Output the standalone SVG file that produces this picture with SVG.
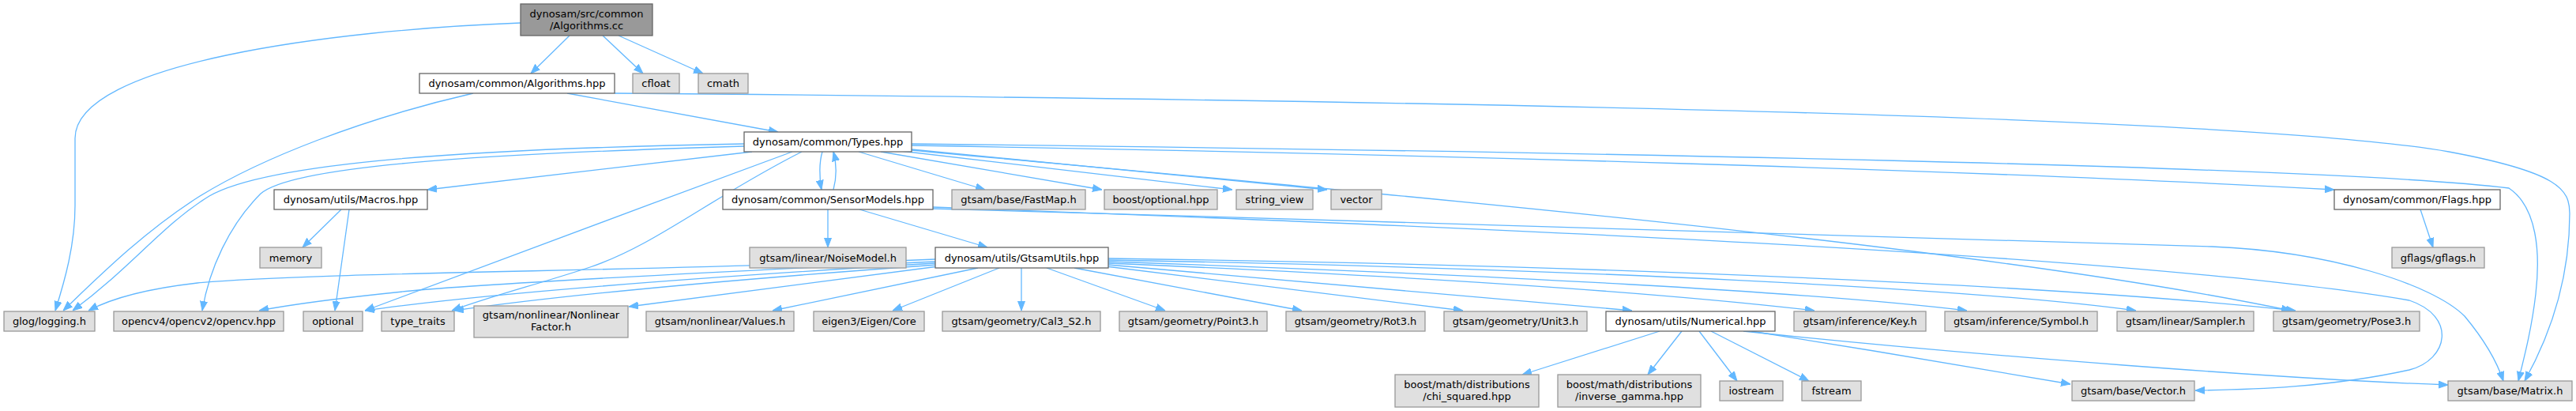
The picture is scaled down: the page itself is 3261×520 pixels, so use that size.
<svg xmlns="http://www.w3.org/2000/svg" width="3261" height="520" viewBox="0 0 3261 520">
<style>
.n rect{stroke-width:1.3}
.w rect{fill:#ffffff;stroke:#666666}
.g rect{fill:#e0e0e0;stroke:#999999}
.m rect{fill:#999999;stroke:#666666}
text{font-family:"DejaVu Sans","Liberation Sans",sans-serif;font-size:13px;fill:#000000;text-anchor:middle}
#edges path{fill:none;stroke:#63b8ff;stroke-width:1.3;marker-end:url(#ah)}
</style>
<defs>
<marker id="ah" markerUnits="userSpaceOnUse" markerWidth="12" markerHeight="10" viewBox="0 0 12 10" refX="12" refY="5" orient="auto">
<path d="M0,0.5 L12,5 L0,9.5 z" fill="#63b8ff" stroke="#63b8ff" stroke-width="1"/>
</marker>
</defs>
<rect width="3261" height="520" fill="#ffffff"/>
<g id="edges">
<path d="M659,29 C420,38 95,80 95,175 L95,260 C95,310 82,355 70,393"/>
<path d="M721,45 L672,93"/>
<path d="M763,45 L814,93"/>
<path d="M783,45 L890,93"/>
<path d="M599,118 C460,150 330,200 250,250 C180,295 125,350 80,393"/>
<path d="M718,118 L985,167"/>
<path d="M778,118 C1500,124 2800,140 3100,192 C3240,218 3253,240 3253,270 C3253,360 3225,430 3196,482"/>
<path d="M952,192 L541,240"/>
<path d="M1041,192 C1037,205 1037,225 1040,240"/>
<path d="M1055,240 C1059,225 1059,207 1055,192"/>
<path d="M1087,192 L1247,240"/>
<path d="M1115,192 L1395,240"/>
<path d="M1140,191 L1560,240"/>
<path d="M1154,189 L1680,240"/>
<path d="M1154,184 C1800,195 2500,215 2955,240"/>
<path d="M1154,182 C2000,192 2950,210 3176,238 C3212,262 3216,320 3210,372 C3205,415 3196,450 3188,482"/>
<path d="M1154,190 C1800,250 2500,310 2900,393"/>
<path d="M942,182 C600,188 340,205 265,248 C205,285 170,335 92,393"/>
<path d="M942,185 C600,195 370,210 330,245 C290,285 265,340 256,393"/>
<path d="M1003,192 C820,260 600,340 462,393"/>
<path d="M1015,192 C900,250 830,310 747,338 C680,360 620,375 572,393"/>
<path d="M1048,265 L1048,313"/>
<path d="M1088,265 L1250,313"/>
<path d="M1181,262 C1800,285 2700,320 3050,380 C3110,400 3100,455 3050,468 C2950,490 2850,493 2779,494"/>
<path d="M1181,264 C1800,282 2500,300 2800,312 C2950,318 3080,360 3120,400 C3145,430 3160,455 3169,482"/>
<path d="M432,265 L383,313"/>
<path d="M442,265 L424,393"/>
<path d="M3064,265 L3080,313"/>
<path d="M1184,328 C800,344 400,344 250,358 C180,366 140,378 112,393"/>
<path d="M1184,331 C900,344 600,360 520,368 C420,378 370,385 328,393"/>
<path d="M1184,333 C900,350 620,370 462,393"/>
<path d="M1186,335 C950,352 720,372 575,393"/>
<path d="M1188,337 L796,388"/>
<path d="M1238,339 L978,393"/>
<path d="M1265,339 L1130,393"/>
<path d="M1293,339 L1293,393"/>
<path d="M1325,339 L1475,393"/>
<path d="M1360,339 L1648,393"/>
<path d="M1400,337 L1852,393"/>
<path d="M1403,335 L2066,393"/>
<path d="M1403,333 C1800,350 2100,370 2297,393"/>
<path d="M1403,331 C1900,348 2300,370 2490,393"/>
<path d="M1403,329 C2000,340 2500,365 2704,393"/>
<path d="M1403,327 C2000,335 2600,360 2906,393"/>
<path d="M2101,419 L1927,474"/>
<path d="M2129,419 L2086,474"/>
<path d="M2151,419 L2199,482"/>
<path d="M2166,419 L2290,482"/>
<path d="M2217,419 C2350,440 2500,465 2621,486"/>
<path d="M2207,419 C2500,450 2900,480 3099,487"/>
</g>
<g id="n_algorithms_cc" class="n m"><rect x="659" y="5" width="167" height="40"/><text x="742.5" y="21.5">dynosam/src/common</text><text x="742.5" y="36.5">/Algorithms.cc</text></g>
<g id="n_algorithms_hpp" class="n w"><rect x="531" y="93" width="247" height="25"/><text x="654.5" y="110">dynosam/common/Algorithms.hpp</text></g>
<g id="n_cfloat" class="n g"><rect x="801" y="93" width="59" height="25"/><text x="830.5" y="110">cfloat</text></g>
<g id="n_cmath" class="n g"><rect x="884" y="93" width="63" height="25"/><text x="915.5" y="110">cmath</text></g>
<g id="n_types" class="n w"><rect x="942" y="167" width="212" height="25"/><text x="1048" y="184">dynosam/common/Types.hpp</text></g>
<g id="n_macros" class="n w"><rect x="347" y="240" width="194" height="25"/><text x="444" y="257">dynosam/utils/Macros.hpp</text></g>
<g id="n_sensormodels" class="n w"><rect x="915" y="240" width="266" height="25"/><text x="1048" y="257">dynosam/common/SensorModels.hpp</text></g>
<g id="n_fastmap" class="n g"><rect x="1205" y="240" width="169" height="25"/><text x="1289.5" y="257">gtsam/base/FastMap.h</text></g>
<g id="n_boost_optional" class="n g"><rect x="1398" y="240" width="143" height="25"/><text x="1469.5" y="257">boost/optional.hpp</text></g>
<g id="n_string_view" class="n g"><rect x="1565" y="240" width="97" height="25"/><text x="1613.5" y="257">string_view</text></g>
<g id="n_vector" class="n g"><rect x="1685" y="240" width="64" height="25"/><text x="1717" y="257">vector</text></g>
<g id="n_flags" class="n w"><rect x="2955" y="240" width="210" height="25"/><text x="3060" y="257">dynosam/common/Flags.hpp</text></g>
<g id="n_memory" class="n g"><rect x="329" y="313" width="78" height="26"/><text x="368" y="330.5">memory</text></g>
<g id="n_noisemodel" class="n g"><rect x="949" y="313" width="198" height="26"/><text x="1048" y="330.5">gtsam/linear/NoiseModel.h</text></g>
<g id="n_gtsamutils" class="n w"><rect x="1184" y="313" width="219" height="26"/><text x="1293.5" y="330.5">dynosam/utils/GtsamUtils.hpp</text></g>
<g id="n_gflags" class="n g"><rect x="3028" y="313" width="117" height="26"/><text x="3086.5" y="330.5">gflags/gflags.h</text></g>
<g id="n_glog" class="n g"><rect x="5" y="394" width="115" height="25"/><text x="62.5" y="411">glog/logging.h</text></g>
<g id="n_opencv" class="n g"><rect x="144" y="394" width="215" height="25"/><text x="251.5" y="411">opencv4/opencv2/opencv.hpp</text></g>
<g id="n_optional" class="n g"><rect x="384" y="394" width="75" height="25"/><text x="421.5" y="411">optional</text></g>
<g id="n_type_traits" class="n g"><rect x="483" y="394" width="92" height="25"/><text x="529" y="411">type_traits</text></g>
<g id="n_nonlinearfactor" class="n g"><rect x="600" y="387" width="195" height="40"/><text x="697.5" y="403">gtsam/nonlinear/Nonlinear</text><text x="697.5" y="418">Factor.h</text></g>
<g id="n_values" class="n g"><rect x="818" y="394" width="187" height="25"/><text x="911.5" y="411">gtsam/nonlinear/Values.h</text></g>
<g id="n_eigen" class="n g"><rect x="1030" y="394" width="140" height="25"/><text x="1100" y="411">eigen3/Eigen/Core</text></g>
<g id="n_cal3" class="n g"><rect x="1193" y="394" width="200" height="25"/><text x="1293" y="411">gtsam/geometry/Cal3_S2.h</text></g>
<g id="n_point3" class="n g"><rect x="1417" y="394" width="187" height="25"/><text x="1510.5" y="411">gtsam/geometry/Point3.h</text></g>
<g id="n_rot3" class="n g"><rect x="1628" y="394" width="176" height="25"/><text x="1716" y="411">gtsam/geometry/Rot3.h</text></g>
<g id="n_unit3" class="n g"><rect x="1828" y="394" width="181" height="25"/><text x="1918.5" y="411">gtsam/geometry/Unit3.h</text></g>
<g id="n_numerical" class="n w"><rect x="2033" y="394" width="214" height="25"/><text x="2140" y="411">dynosam/utils/Numerical.hpp</text></g>
<g id="n_key" class="n g"><rect x="2271" y="394" width="167" height="25"/><text x="2354.5" y="411">gtsam/inference/Key.h</text></g>
<g id="n_symbol" class="n g"><rect x="2462" y="394" width="193" height="25"/><text x="2558.5" y="411">gtsam/inference/Symbol.h</text></g>
<g id="n_sampler" class="n g"><rect x="2680" y="394" width="173" height="25"/><text x="2766.5" y="411">gtsam/linear/Sampler.h</text></g>
<g id="n_pose3" class="n g"><rect x="2878" y="394" width="185" height="25"/><text x="2970.5" y="411">gtsam/geometry/Pose3.h</text></g>
<g id="n_chi" class="n g"><rect x="1766" y="474" width="182" height="41"/><text x="1857" y="491">boost/math/distributions</text><text x="1857" y="506">/chi_squared.hpp</text></g>
<g id="n_invgamma" class="n g"><rect x="1972" y="474" width="181" height="41"/><text x="2062.5" y="491">boost/math/distributions</text><text x="2062.5" y="506">/inverse_gamma.hpp</text></g>
<g id="n_iostream" class="n g"><rect x="2177" y="482" width="80" height="25"/><text x="2217" y="499">iostream</text></g>
<g id="n_fstream" class="n g"><rect x="2281" y="482" width="75" height="25"/><text x="2318.5" y="499">fstream</text></g>
<g id="n_vector_h" class="n g"><rect x="2623" y="482" width="155" height="25"/><text x="2700.5" y="499">gtsam/base/Vector.h</text></g>
<g id="n_matrix_h" class="n g"><rect x="3099" y="482" width="157" height="25"/><text x="3177.5" y="499">gtsam/base/Matrix.h</text></g>
</svg>
